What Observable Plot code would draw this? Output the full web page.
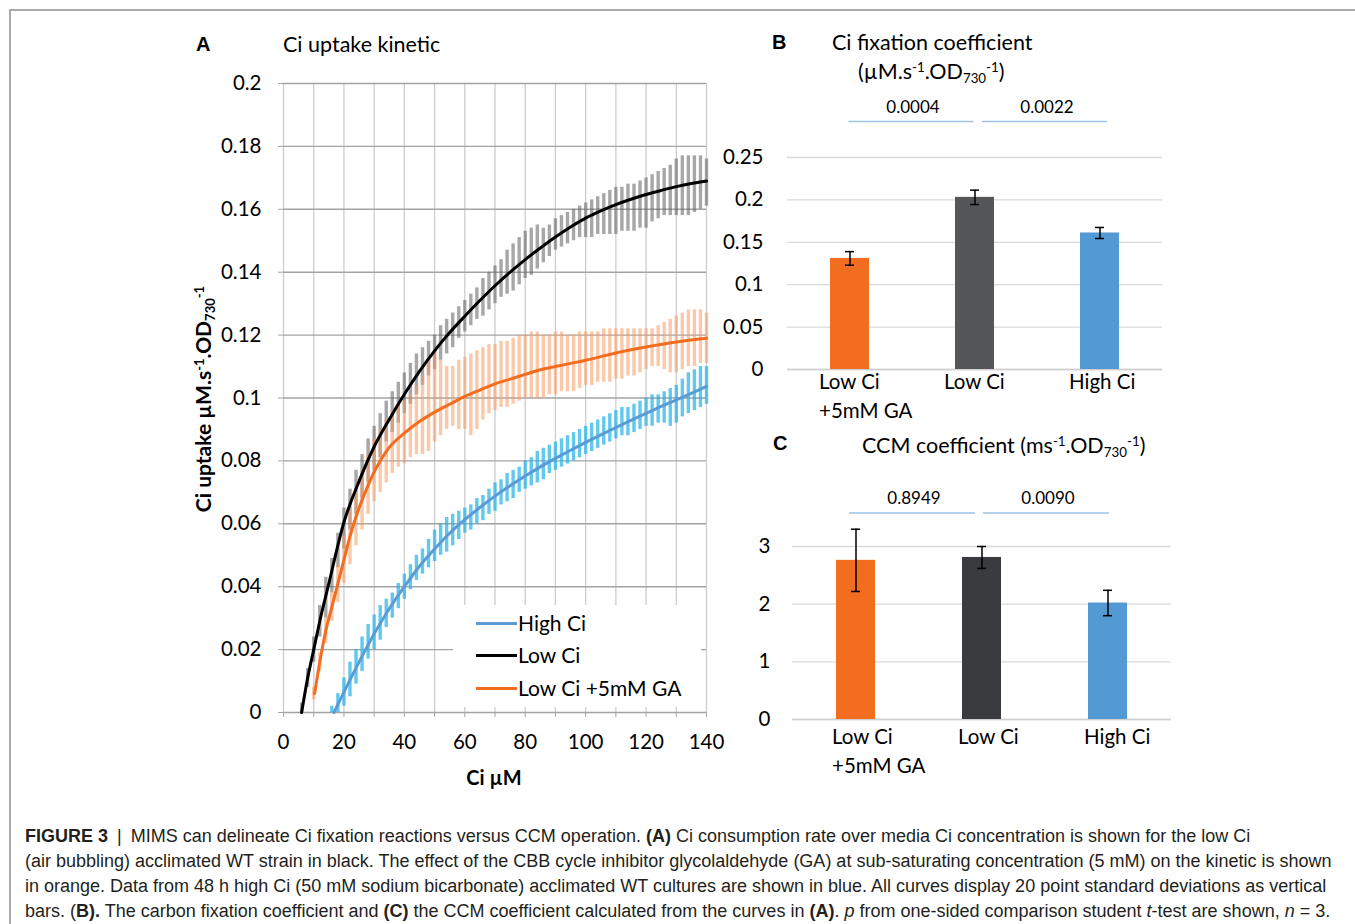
<!DOCTYPE html>
<html><head><meta charset="utf-8">
<script src="https://cdn.jsdelivr.net/npm/d3@7"></script>
<script src="https://cdn.jsdelivr.net/npm/@observablehq/plot@0.6"></script>
<style>
body{margin:0;background:#fff;}
#page{position:relative;width:1355px;height:924px;overflow:hidden;background:#fff;font-family:Lato,sans-serif;color:#000;}
.abs{position:absolute;white-space:nowrap;line-height:24px;}
sup,sub{font-size:0.62em;line-height:0;}
sup{vertical-align:0.55em;}
sub{vertical-align:-0.3em;}
.lg{position:absolute;left:23px;width:41px;height:3px;}
.lt{position:absolute;left:65px;font-size:21px;line-height:24px;}
#caption{position:absolute;left:25px;top:824px;font:18px "Liberation Sans",Arial,sans-serif;line-height:25px;color:#231f20;white-space:nowrap;}
</style></head><body><div id="page">
<div style="position:absolute;left:9px;top:9px;width:1344px;height:930px;border-top:2px solid #a9a9a9;border-left:2px solid #a9a9a9;border-right:1px solid #e3e3e3;"></div>
<div id="plotA" style="position:absolute;left:190px;top:70px;"></div>
<div id="plotB" style="position:absolute;left:700px;top:90px;"></div>
<div id="plotC" style="position:absolute;left:700px;top:470px;"></div>

<div class="abs" style="left:196px;top:33px;font:bold 20px 'Liberation Sans',Arial;">A</div>
<div class="abs" style="left:283px;top:32px;font-size:21.5px;">Ci uptake kinetic</div>
<div class="abs" style="left:772px;top:31px;font:bold 20px 'Liberation Sans',Arial;">B</div>
<div class="abs" style="left:832px;top:30px;font-size:21.5px;">Ci fixation coefficient</div>
<div class="abs" style="left:858px;top:59px;font-size:21.5px;">(µM.s<sup>-1</sup>.OD<sub>730</sub><sup>-1</sup>)</div>
<div class="abs" style="left:773px;top:432px;font:bold 20px 'Liberation Sans',Arial;">C</div>
<div class="abs" style="left:862px;top:433px;font-size:21.5px;">CCM coefficient (ms<sup>-1</sup>.OD<sub>730</sub><sup>-1</sup>)</div>
<div class="abs" style="left:494px;top:765px;transform:translateX(-50%);font-weight:bold;font-size:20px;">Ci µM</div>
<div class="abs" style="left:203px;top:399px;transform:translate(-50%,-50%) rotate(-90deg);font-weight:bold;font-size:21px;">Ci uptake µM.s<sup>-1</sup>.OD<sub>730</sub><sup>-1</sup></div>

<div id="legend" style="position:absolute;left:453px;top:605px;width:248px;height:102px;background:#fff;">
  <div class="lg" style="top:17px;background:#5b9bd5;"></div><div class="lt" style="top:6px;">High Ci</div>
  <div class="lg" style="top:49px;background:#000;"></div><div class="lt" style="top:38px;">Low Ci</div>
  <div class="lg" style="top:82px;background:#f36d21;"></div><div class="lt" style="top:71px;">Low Ci +5mM GA</div>
</div>

<div id="caption"><b>FIGURE 3</b>&ensp;|&ensp;MIMS can delineate Ci fixation reactions versus CCM operation. <b>(A)</b> Ci consumption rate over media Ci concentration is shown for the low Ci<br>(air bubbling) acclimated WT strain in black. The effect of the CBB cycle inhibitor glycolaldehyde (GA) at sub-saturating concentration (5 mM) on the kinetic is shown<br>in orange. Data from 48 h high Ci (50 mM sodium bicarbonate) acclimated WT cultures are shown in blue. All curves display 20 point standard deviations as vertical<br>bars. (<b>B).</b> The carbon fixation coefficient and <b>(C)</b> the CCM coefficient calculated from the curves in <b>(A)</b>. <i>p</i> from one-sided comparison student <i>t</i>-test are shown, <i>n</i> = 3.</div>
</div>
<script>
// ---------- Panel A data ----------
const xTicksA = [0, 20, 40, 60, 80, 100, 120, 140];
const xGridA = [0, 10, 20, 30, 40, 50, 60, 70, 80, 90, 100, 110, 120, 130, 140];
const yTicksA = [0, 0.02, 0.04, 0.06, 0.08, 0.1, 0.12, 0.14, 0.16, 0.18, 0.2];

// Low Ci (black) fitted curve
const lowCiX = [6, 8, 10, 12, 15, 20, 25, 30, 35, 40, 45, 50, 55, 60, 65, 70, 75, 80, 85, 90, 95, 100, 105, 110, 115, 120, 125, 130, 135, 140];
const lowCiY = [0, 0.011, 0.020, 0.029, 0.041, 0.0605, 0.0735, 0.0845, 0.0932, 0.1012, 0.1085, 0.115, 0.1208, 0.126, 0.131, 0.1357, 0.140, 0.144, 0.1477, 0.1512, 0.1544, 0.1572, 0.1595, 0.1615, 0.1632, 0.1647, 0.166, 0.1672, 0.1682, 0.169];
// Low Ci error bars
const lowCiBarX = [6,8,10,12,14,16,18,20,22,24,26,28,30,32,34,36,38,40,42,44,46,48,50,52,54,56,58,60,62,64,66,68,70,72,74,76,78,80,82,84,86,88,90,92,94,96,98,100,102,104,106,108,110,112,114,116,118,120,122,124,126,128,130,132,134,136,138,140];
const lowCiBarLo = [0,0.008,0.016,0.024,0.030,0.038,0.046,0.052,0.058,0.063,
  0.068,0.073,0.077,0.081,0.086,0.089,0.092,0.095,0.098,0.101,
  0.104,0.107,0.109,0.112,0.114,0.116,0.119,0.121,0.123,0.125,
  0.126,0.128,0.130,0.132,0.133,0.134,0.136,0.138,0.139,0.141,
  0.143,0.145,0.147,0.148,0.149,0.150,0.151,0.151,0.151,0.152,
  0.152,0.152,0.152,0.153,0.153,0.153,0.154,0.154,0.156,0.157,
  0.158,0.158,0.158,0.158,0.158,0.159,0.160,0.161];
const lowCiBarHi = [0.003,0.014,0.024,0.034,0.043,0.049,0.057,0.065,0.071,0.077,
  0.082,0.087,0.091,0.095,0.099,0.102,0.105,0.108,0.111,0.114,
  0.116,0.118,0.120,0.123,0.125,0.127,0.129,0.131,0.133,0.135,
  0.138,0.140,0.142,0.144,0.147,0.149,0.151,0.153,0.154,0.155,
  0.154,0.155,0.157,0.158,0.159,0.160,0.161,0.162,0.163,0.164,
  0.165,0.166,0.167,0.167,0.168,0.168,0.169,0.170,0.171,0.172,
  0.173,0.174,0.176,0.177,0.177,0.177,0.177,0.176];

// Low Ci +5mM GA (orange) fitted curve
const gaX = [10.3, 12, 14, 16, 18, 20, 22, 25, 28, 30, 32, 35, 40, 45, 50, 55, 60, 65, 70, 75, 80, 85, 90, 95, 100, 110, 120, 130, 140];
const gaY = [0.006, 0.016, 0.026, 0.0335, 0.041, 0.0485, 0.056, 0.065, 0.0722, 0.0765, 0.080, 0.0843, 0.0888, 0.0925, 0.0955, 0.098, 0.1005, 0.1025, 0.1045, 0.106, 0.1075, 0.109, 0.110, 0.111, 0.112, 0.1143, 0.1162, 0.1178, 0.119];
const gaBarX = [10,12,14,16,18,20,22,24,26,28,30,32,34,36,38,40,42,44,46,48,50,52,54,56,58,60,62,64,66,68,70,72,74,76,78,80,82,84,86,88,90,92,94,96,98,100,102,104,106,108,110,112,114,116,118,120,122,124,126,128,130,132,134,136,138,140];
const gaBarLo = [0.004,0.013,0.022,0.029,0.035,0.041,0.047,0.053,0.058,0.063,
  0.067,0.070,0.073,0.076,0.078,0.079,0.081,0.082,0.082,0.083,
  0.086,0.088,0.090,0.091,0.090,0.090,0.088,0.090,0.093,0.095,
  0.096,0.097,0.097,0.098,0.099,0.100,0.100,0.100,0.100,0.101,
  0.101,0.102,0.102,0.102,0.103,0.104,0.104,0.105,0.105,0.105,
  0.106,0.106,0.107,0.107,0.108,0.109,0.110,0.110,0.109,0.108,
  0.108,0.109,0.110,0.110,0.111,0.111];
const gaBarHi = [0.008,0.019,0.030,0.038,0.047,0.056,0.064,0.071,0.077,0.082,
  0.087,0.090,0.093,0.096,0.098,0.099,0.101,0.104,0.107,0.112,
  0.115,0.112,0.110,0.110,0.112,0.113,0.114,0.115,0.116,0.117,
  0.117,0.118,0.118,0.119,0.120,0.120,0.121,0.121,0.120,0.120,
  0.121,0.121,0.120,0.120,0.121,0.121,0.121,0.121,0.122,0.122,
  0.122,0.122,0.122,0.122,0.122,0.122,0.122,0.123,0.124,0.125,
  0.126,0.127,0.128,0.128,0.128,0.127];

// High Ci (blue) fitted curve
const highCiX = [16.7, 20, 25, 30, 35, 40, 45, 50, 55, 60, 65, 70, 75, 80, 85, 90, 95, 100, 105, 110, 115, 120, 125, 130, 135, 140];
const highCiY = [0, 0.0065, 0.016, 0.025, 0.033, 0.040, 0.0465, 0.052, 0.057, 0.0613, 0.0652, 0.0688, 0.0721, 0.0752, 0.0781, 0.0808, 0.0834, 0.0859, 0.0883, 0.0906, 0.0929, 0.0951, 0.0973, 0.0994, 0.1015, 0.1037];
const highCiBarX = [16,18,20,22,24,26,28,30,32,34,36,38,40,42,44,46,48,50,52,54,56,58,60,62,64,66,68,70,72,74,76,78,80,82,84,86,88,90,92,94,96,98,100,102,104,106,108,110,112,114,116,118,120,122,124,126,128,130,132,134,136,138,140];
const highCiBarLo = [0,0,0.002,0.005,0.009,0.013,0.017,0.020,0.023,0.027,
  0.030,0.033,0.036,0.039,0.042,0.044,0.046,0.048,0.050,0.051,
  0.053,0.055,0.057,0.058,0.060,0.061,0.063,0.064,0.066,0.067,
  0.068,0.070,0.071,0.072,0.073,0.074,0.076,0.077,0.078,0.079,
  0.080,0.081,0.082,0.083,0.084,0.085,0.086,0.087,0.088,0.088,
  0.089,0.090,0.091,0.091,0.092,0.092,0.091,0.092,0.094,0.095,
  0.096,0.097,0.098];
const highCiBarHi = [0.002,0.006,0.011,0.016,0.020,0.024,0.028,0.031,0.034,0.036,
  0.038,0.041,0.044,0.047,0.050,0.052,0.055,0.058,0.060,0.062,
  0.063,0.064,0.065,0.066,0.068,0.069,0.071,0.073,0.074,0.076,
  0.077,0.078,0.080,0.081,0.083,0.084,0.085,0.086,0.087,0.088,
  0.089,0.090,0.091,0.092,0.093,0.094,0.095,0.096,0.097,0.097,
  0.098,0.099,0.100,0.101,0.101,0.102,0.103,0.104,0.106,0.108,
  0.109,0.110,0.110];

// ---------- Panels B and C data ----------
const categories = ["Low Ci +5mM GA", "Low Ci", "High Ci"];
const fixationCoef = [0.131, 0.203, 0.161];
const fixationErr = [0.008, 0.0085, 0.0065];
const ccmCoef = [2.76, 2.81, 2.02];
const ccmErr = [0.54, 0.19, 0.22];
const yTicksB = [0, 0.05, 0.1, 0.15, 0.2, 0.25];
const yTicksC = [0, 1, 2, 3];
const pValuesB = ["0.0004", "0.0022"];
const pValuesC = ["0.8949", "0.0090"];

// ---------- build ----------
const bars = (X, L, H) => X.map((x, i) => ({x, lo: L[i], hi: H[i]}));
const pts = (X, Y) => X.map((x, i) => ({x, y: Y[i]}));
const font = {fontFamily: "Lato, sans-serif", fontSize: "20.5px", color: "#000", background: "transparent", overflow: "visible"};

const plotA = Plot.plot({
  width: 546, height: 722, marginLeft: 93, marginRight: 30, marginTop: 13, marginBottom: 80,
  style: font,
  x: {domain: [0, 140]},
  y: {domain: [0, 0.2]},
  marks: [
    Plot.gridX({ticks: xGridA, stroke: "#cdcdcd", strokeOpacity: 1, strokeWidth: 1.3}),
    Plot.gridY({ticks: yTicksA, stroke: "#a3a3a3", strokeOpacity: 1, strokeWidth: 1.4}),
    Plot.axisY({ticks: yTicksA, tickSize: 5, tickPadding: 17, stroke: "#a6a6a6", tickFormat: d => String(d), label: null}),
    Plot.axisX({ticks: xGridA, tickSize: 5, stroke: "#a6a6a6", tickFormat: () => "", label: null}),
    Plot.axisX({ticks: xTicksA, tickSize: 0, tickPadding: 22, tickFormat: d => String(d), label: null}),
    Plot.ruleX(bars(lowCiBarX, lowCiBarLo, lowCiBarHi), {x: "x", y1: "lo", y2: "hi", stroke: "#5e5e5e", strokeOpacity: 0.55, strokeWidth: 3.4}),
    Plot.ruleX(bars(gaBarX, gaBarLo, gaBarHi), {x: "x", y1: "lo", y2: "hi", stroke: "#f79a63", strokeOpacity: 0.55, strokeWidth: 3.4}),
    Plot.ruleX(bars(highCiBarX, highCiBarLo, highCiBarHi), {x: "x", y1: "lo", y2: "hi", stroke: "#1fb0e6", strokeOpacity: 0.7, strokeWidth: 3.4}),
    Plot.line(pts(highCiX, highCiY), {x: "x", y: "y", curve: "monotone-x", stroke: "#5b9bd5", strokeWidth: 3}),
    Plot.line(pts(gaX, gaY), {x: "x", y: "y", curve: "monotone-x", stroke: "#f36d21", strokeWidth: 3}),
    Plot.line(pts(lowCiX, lowCiY), {x: "x", y: "y", curve: "monotone-x", stroke: "#000", strokeWidth: 3})
  ]
});
document.getElementById("plotA").append(plotA);

function barPanel({values, errs, yTicks, yMax, colors, pvals, pLineY, pTextY, width, height, mL, mR, mT, mB, padY, padX, labelDx, dx1, dx2, tx1, tx2}) {
  const rows = categories.map((c, i) => ({c, v: values[i], e: errs[i], color: colors[i]}));
  const pairs = [0, 1].map(i => ({a: categories[i], b: categories[i + 1], p: pvals[i]}));
  return Plot.plot({
    width, height, marginLeft: mL, marginRight: mR, marginTop: mT, marginBottom: mB,
    style: font,
    x: {domain: categories, paddingInner: 0.69, paddingOuter: 0.345},
    y: {domain: [0, yMax]},
    color: {type: "identity"},
    marks: [
      Plot.gridY({ticks: yTicks, stroke: "#d9d9d9", strokeOpacity: 1, strokeWidth: 1.3}),
      Plot.ruleY([0], {stroke: "#cfcfcf", strokeWidth: 1.5}),
      Plot.axisY({ticks: yTicks, tickSize: 0, tickPadding: padY, tickFormat: d => String(d), label: null}),
      Plot.axisX({tickSize: 0, tickPadding: padX, textAnchor: "start", dx: labelDx, lineHeight: 1.37, tickFormat: d => d.replace(" +", "\n+"), label: null}),
      Plot.barY(rows, {x: "c", y: "v", fill: "color"}),
      Plot.ruleX(rows, {x: "c", y1: d => d.v - d.e, y2: d => d.v + d.e, stroke: "#000", strokeWidth: 1.5}),
      Plot.tickY(rows, {x: "c", y: d => d.v - d.e, stroke: "#000", strokeWidth: 1.5, insetLeft: 15, insetRight: 15}),
      Plot.tickY(rows, {x: "c", y: d => d.v + d.e, stroke: "#000", strokeWidth: 1.5, insetLeft: 15, insetRight: 15}),
      Plot.link(pairs.slice(0, 1), {x1: "a", x2: "b", y1: pLineY, y2: pLineY, stroke: "#9dc3e6", strokeWidth: 1.6, dx: dx1}),
      Plot.link(pairs.slice(1), {x1: "a", x2: "b", y1: pLineY, y2: pLineY, stroke: "#9dc3e6", strokeWidth: 1.6, dx: dx2}),
      Plot.text(pairs.slice(0, 1), {x: "a", y: pTextY, text: "p", dx: tx1, fontSize: 17, fill: "#000"}),
      Plot.text(pairs.slice(1), {x: "a", y: pTextY, text: "p", dx: tx2, fontSize: 17, fill: "#000"})
    ]
  });
}

document.getElementById("plotB").append(barPanel({
  values: fixationCoef, errs: fixationErr, yTicks: yTicksB, yMax: 0.25,
  colors: ["#f36d21", "#555658", "#5399d3"], pvals: pValuesB,
  pLineY: 0.2925, pTextY: 0.309,
  width: 482, height: 339, mL: 87, mR: 20, mT: 67, mB: 60, padY: 24, padX: 0, labelDx: -31,
  dx1: -1.5, dx2: 7, tx1: 63, tx2: 72
}));
document.getElementById("plotC").append(barPanel({
  values: ccmCoef, errs: ccmErr, yTicks: yTicksC, yMax: 3,
  colors: ["#f36d21", "#393b3e", "#5399d3"], pvals: pValuesC,
  pLineY: 3.58, pTextY: 3.84,
  width: 486, height: 309, mL: 92, mR: 15, mT: 76, mB: 60, padY: 22, padX: 5, labelDx: -24,
  dx1: -7, dx2: 1, tx1: 58, tx2: 66
}));
</script></body></html>
